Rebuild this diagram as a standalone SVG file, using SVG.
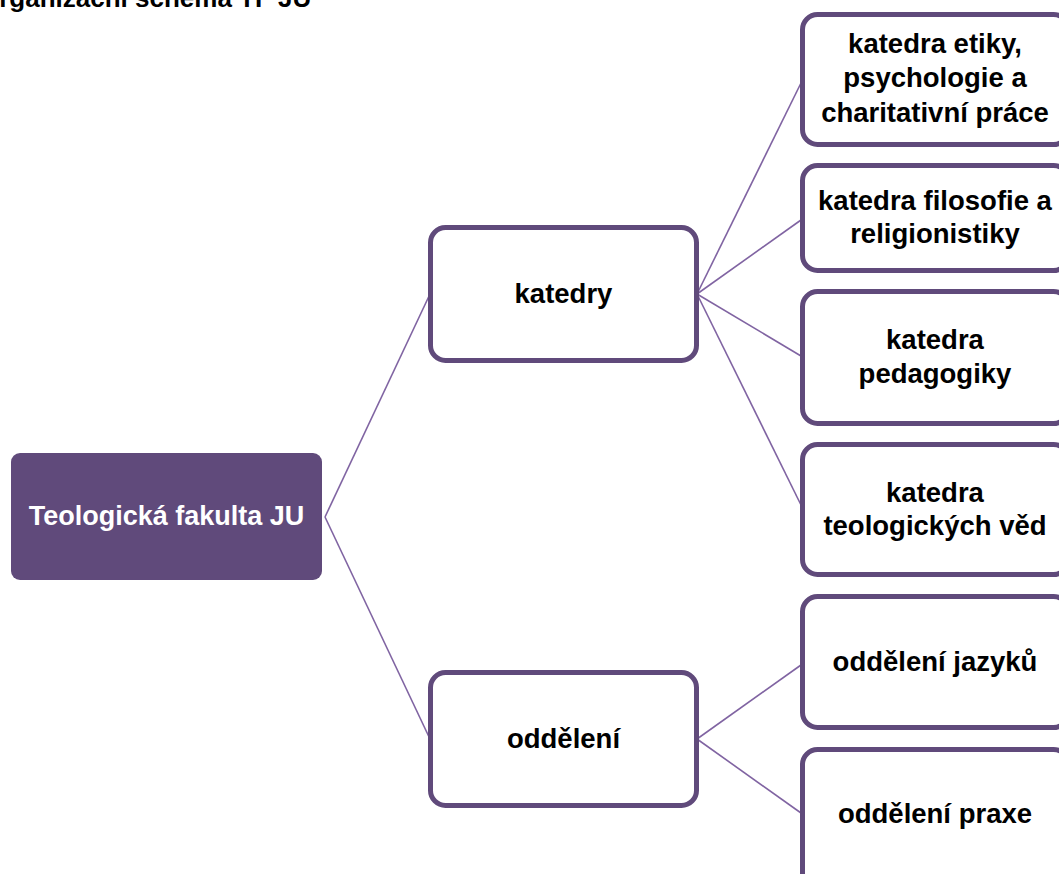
<svg xmlns="http://www.w3.org/2000/svg" width="1059" height="874" viewBox="0 0 1059 874">
<style>
.box{fill:#fff;stroke:#604A7B;stroke-width:5}
.root{fill:#604A7B;stroke:none}
.lbl{font-family:"Liberation Sans",Arial,sans-serif;font-weight:bold;font-size:27.5px;fill:#000;text-anchor:middle}
.wl{fill:#fff;font-size:27px}
.con{stroke:#8064A2;stroke-width:1.6;fill:none}
.title{font-family:"Liberation Sans",Arial,sans-serif;font-weight:bold;font-size:26px;fill:#000}
</style>
<rect width="1059" height="874" fill="#fff"/>
<text class="title" x="-21" y="7">Organizační schéma TF JU</text>
<g id="connectors">
<line class="con" x1="325" y1="517" x2="430" y2="294"/>
<line class="con" x1="325" y1="517" x2="430" y2="739"/>
<line class="con" x1="697" y1="294" x2="801" y2="83"/>
<line class="con" x1="697" y1="294" x2="801" y2="220"/>
<line class="con" x1="697" y1="294" x2="801" y2="356"/>
<line class="con" x1="697" y1="294" x2="801" y2="505"/>
<line class="con" x1="697" y1="739" x2="801" y2="665"/>
<line class="con" x1="697" y1="739" x2="801" y2="813"/>
</g>
<g id="n-root">
<rect class="root" x="11" y="453" width="311" height="127" rx="9"/>
<text class="lbl wl" x="166.5" y="525">Teologická fakulta JU</text>
</g>
<g id="n-katedry">
<rect class="box" x="430.5" y="227.5" width="266" height="133" rx="15"/>
<text class="lbl" x="563.5" y="303">katedry</text>
</g>
<g id="n-oddeleni">
<rect class="box" x="430.5" y="672.5" width="266" height="133" rx="15"/>
<text class="lbl" x="563.5" y="748">oddělení</text>
</g>
<g id="n-k1">
<rect class="box" x="802.5" y="14.5" width="266" height="130" rx="15"/>
<text class="lbl" x="935" y="53">katedra etiky,</text>
<text class="lbl" x="935" y="87">psychologie a</text>
<text class="lbl" x="935" y="122">charitativní práce</text>
</g>
<g id="n-k2">
<rect class="box" x="802.5" y="165.5" width="266" height="105" rx="15"/>
<text class="lbl" x="935" y="210">katedra filosofie a</text>
<text class="lbl" x="935" y="243">religionistiky</text>
</g>
<g id="n-k3">
<rect class="box" x="802.5" y="291.5" width="266" height="132" rx="15"/>
<text class="lbl" x="935" y="349">katedra</text>
<text class="lbl" x="935" y="383">pedagogiky</text>
</g>
<g id="n-k4">
<rect class="box" x="802.5" y="444.5" width="266" height="130" rx="15"/>
<text class="lbl" x="935" y="502">katedra</text>
<text class="lbl" x="935" y="535">teologických věd</text>
</g>
<g id="n-o1">
<rect class="box" x="802.5" y="596.5" width="266" height="131" rx="15"/>
<text class="lbl" x="935" y="671">oddělení jazyků</text>
</g>
<g id="n-o2">
<rect class="box" x="802.5" y="749.5" width="266" height="140" rx="15"/>
<text class="lbl" x="935" y="823">oddělení praxe</text>
</g>
</svg>
